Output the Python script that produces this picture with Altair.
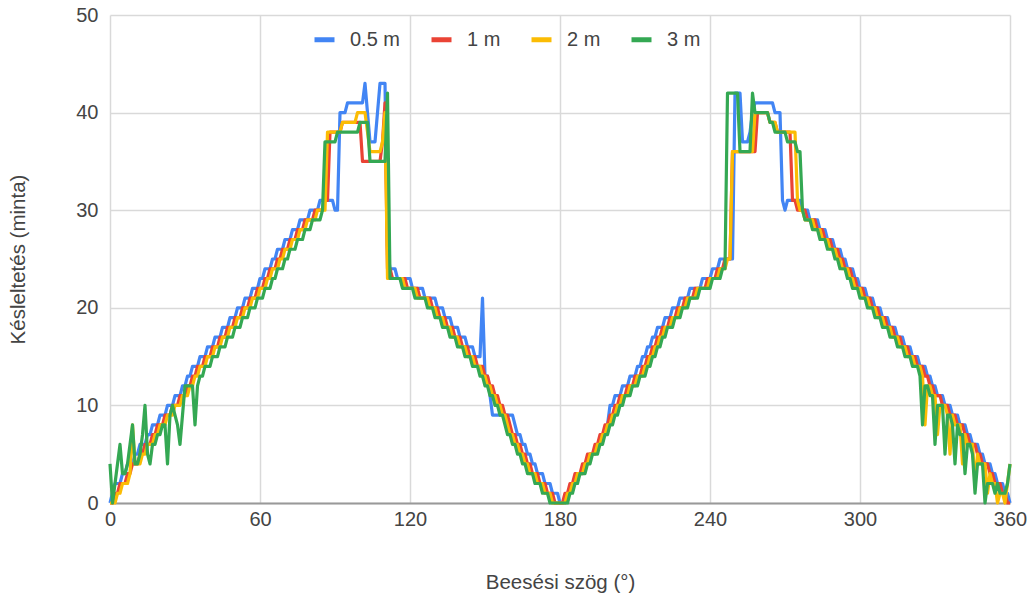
import altair as alt
import pandas as pd

# Incidence angle grid (degrees), one sample per degree
angles = list(range(0, 361))

series_names = ["0.5 m", "1 m", "2 m", "3 m"]
series_colors = ["#4285F4", "#EA4335", "#FBBC04", "#34A853"]

x_ticks = [0, 60, 120, 180, 240, 300, 360]
y_ticks = [0, 10, 20, 30, 40, 50]

blue = [
    0, 1, 2, 2, 2, 3, 3, 4, 4, 4,
    5, 5, 6, 6, 6, 7, 7, 8, 8, 8,
    9, 9, 9, 10, 10, 10, 11, 11, 11, 12,
    12, 13, 13, 14, 14, 14, 15, 15, 15, 16,
    16, 16, 17, 17, 17, 18, 18, 18, 19, 19,
    19, 20, 20, 20, 21, 21, 21, 22, 22, 22,
    23, 23, 24, 24, 24, 25, 25, 26, 26, 26,
    27, 27, 27, 28, 28, 28, 29, 29, 29, 29,
    30, 30, 30, 30, 31, 31, 31, 31, 31, 31,
    30, 30, 40, 40, 40, 41, 41, 41, 41, 41,
    41, 41, 43, 40, 37, 37, 37, 40, 43, 43,
    43, 26, 24, 24, 24, 23, 23, 23, 23, 23,
    23, 22, 22, 22, 22, 22, 21, 21, 21, 21,
    21, 20, 20, 20, 19, 19, 19, 18, 18, 18,
    17, 17, 17, 16, 16, 16, 15, 15, 15, 21,
    13, 13, 11, 9, 9, 9, 9, 9, 9, 9,
    9, 9, 8, 7, 7, 6, 6, 5, 5, 4,
    4, 3, 3, 3, 2, 2, 2, 1, 1, 1,
    0, 0, 0, 1, 1, 2, 2, 3, 3, 3,
    4, 4, 5, 5, 5, 6, 6, 7, 7, 8,
    10, 10, 11, 11, 11, 12, 12, 12, 13, 13,
    13, 14, 14, 15, 15, 16, 16, 17, 17, 18,
    18, 18, 19, 19, 19, 20, 20, 20, 21, 21,
    21, 21, 22, 22, 22, 22, 22, 23, 23, 23,
    23, 24, 24, 24, 25, 25, 25, 25, 25, 25,
    42, 42, 42, 37, 37, 37, 38, 40, 41, 41,
    41, 41, 41, 41, 41, 41, 40, 40, 40, 31,
    30, 31, 31, 31, 31, 31, 31, 30, 30, 30,
    29, 29, 29, 29, 28, 28, 28, 27, 27, 27,
    26, 26, 26, 25, 25, 24, 24, 24, 23, 23,
    22, 22, 22, 21, 21, 21, 20, 20, 20, 19,
    19, 19, 18, 18, 18, 17, 17, 17, 16, 16,
    16, 15, 15, 15, 14, 14, 14, 13, 13, 12,
    12, 11, 11, 11, 10, 10, 10, 9, 9, 9,
    8, 8, 8, 7, 7, 6, 6, 6, 5, 5,
    4, 4, 4, 3, 3, 2, 2, 2, 1, 1,
    0,
]

red = [
    0, 0, 1, 1, 2, 2, 2, 3, 3, 4,
    4, 4, 5, 5, 6, 6, 6, 7, 7, 8,
    8, 8, 9, 9, 9, 10, 10, 10, 11, 11,
    11, 12, 12, 13, 13, 14, 14, 14, 15, 15,
    15, 16, 16, 16, 17, 17, 17, 18, 18, 18,
    19, 19, 19, 20, 20, 20, 21, 21, 21, 22,
    22, 22, 23, 23, 24, 24, 24, 25, 25, 26,
    26, 26, 27, 27, 27, 28, 28, 28, 29, 29,
    29, 29, 30, 30, 30, 30, 31, 31, 38, 38,
    38, 38, 38, 39, 39, 39, 39, 39, 39, 39,
    39, 35, 35, 35, 35, 35, 35, 35, 35, 37,
    41, 24, 24, 23, 23, 23, 23, 23, 23, 22,
    22, 22, 22, 22, 21, 21, 21, 21, 21, 20,
    20, 20, 19, 19, 19, 18, 18, 18, 17, 17,
    17, 16, 16, 16, 15, 15, 15, 14, 14, 14,
    13, 13, 12, 12, 11, 11, 10, 10, 9, 9,
    8, 7, 7, 6, 6, 5, 5, 4, 4, 3,
    3, 3, 2, 2, 2, 1, 1, 1, 0, 0,
    0, 0, 1, 1, 2, 2, 3, 3, 3, 4,
    4, 5, 5, 5, 6, 6, 7, 7, 8, 8,
    9, 9, 10, 10, 11, 11, 11, 12, 12, 12,
    13, 13, 13, 14, 14, 15, 15, 16, 16, 17,
    17, 18, 18, 18, 19, 19, 19, 20, 20, 20,
    21, 21, 21, 21, 22, 22, 22, 22, 22, 23,
    23, 23, 23, 24, 24, 24, 25, 25, 25, 36,
    36, 36, 36, 36, 36, 36, 36, 36, 36, 40,
    40, 40, 40, 40, 39, 39, 39, 38, 38, 38,
    38, 38, 38, 31, 31, 30, 30, 30, 30, 29,
    29, 29, 29, 28, 28, 28, 27, 27, 27, 26,
    26, 26, 25, 25, 24, 24, 24, 23, 23, 22,
    22, 22, 21, 21, 21, 20, 20, 20, 19, 19,
    19, 18, 18, 18, 17, 17, 17, 16, 16, 16,
    15, 15, 15, 14, 14, 14, 13, 13, 12, 12,
    11, 11, 11, 10, 10, 10, 9, 9, 9, 8,
    8, 8, 7, 7, 6, 6, 6, 5, 5, 4,
    4, 4, 3, 3, 2, 2, 2, 1, 1, 0,
    0,
]

yellow = [
    0, 0, 0, 1, 1, 2, 2, 2, 3, 8,
    4, 4, 4, 5, 5, 6, 6, 6, 7, 7,
    8, 8, 8, 9, 9, 9, 10, 10, 10, 11,
    11, 11, 12, 12, 13, 13, 14, 14, 14, 15,
    15, 15, 16, 16, 16, 17, 17, 17, 18, 18,
    18, 19, 19, 19, 20, 20, 20, 21, 21, 21,
    22, 22, 22, 23, 23, 24, 24, 24, 25, 25,
    26, 26, 26, 27, 27, 27, 28, 28, 28, 29,
    29, 29, 29, 30, 30, 30, 30, 38, 38, 38,
    38, 38, 38, 39, 39, 39, 39, 39, 39, 40,
    40, 40, 40, 38, 36, 36, 36, 36, 36, 37,
    40, 23, 23, 23, 23, 23, 23, 23, 22, 22,
    22, 22, 22, 21, 21, 21, 21, 21, 20, 20,
    20, 19, 19, 19, 18, 18, 18, 17, 17, 17,
    16, 16, 16, 15, 15, 15, 14, 14, 14, 13,
    13, 12, 12, 11, 11, 10, 10, 9, 9, 8,
    7, 7, 6, 6, 5, 5, 4, 4, 3, 3,
    3, 2, 2, 2, 1, 1, 1, 0, 0, 0,
    0, 0, 0, 1, 1, 2, 2, 3, 3, 3,
    4, 4, 5, 5, 5, 6, 6, 7, 7, 8,
    8, 9, 9, 10, 10, 11, 11, 11, 12, 12,
    12, 13, 13, 13, 14, 14, 15, 15, 16, 16,
    17, 17, 18, 18, 18, 19, 19, 19, 20, 20,
    20, 21, 21, 21, 21, 22, 22, 22, 22, 22,
    23, 23, 23, 23, 24, 24, 24, 25, 25, 36,
    36, 36, 36, 36, 36, 36, 36, 36, 40, 40,
    40, 40, 40, 40, 39, 39, 39, 38, 38, 38,
    38, 38, 38, 38, 38, 31, 30, 30, 29, 29,
    29, 29, 28, 28, 28, 27, 27, 27, 26, 26,
    26, 25, 25, 24, 24, 24, 23, 23, 22, 22,
    22, 21, 21, 21, 20, 20, 20, 19, 19, 19,
    18, 18, 18, 17, 17, 17, 16, 16, 16, 15,
    15, 15, 14, 14, 14, 13, 8, 12, 12, 11,
    11, 7, 10, 10, 10, 9, 5, 9, 8, 8,
    8, 4, 7, 6, 6, 6, 2, 5, 4, 4,
    4, 1, 3, 2, 2, 0, 1, 1, 0, 2,
    4,
]

green = [
    4, 0, 2, 4, 6, 3, 3, 4, 6, 8,
    4, 4, 5, 7, 10, 5, 4, 6, 6, 7,
    7, 8, 8, 4, 9, 10, 9, 8, 6, 9,
    12, 12, 12, 12, 8, 12, 13, 13, 14, 14,
    14, 15, 15, 15, 16, 16, 16, 17, 17, 17,
    18, 18, 18, 19, 19, 19, 20, 20, 20, 21,
    21, 21, 22, 22, 22, 23, 23, 24, 24, 24,
    25, 25, 26, 26, 26, 27, 27, 27, 28, 28,
    28, 29, 29, 29, 29, 30, 37, 37, 37, 37,
    37, 38, 38, 38, 38, 38, 38, 38, 38, 38,
    39, 39, 39, 39, 35, 35, 35, 35, 35, 35,
    35, 42, 23, 23, 23, 23, 23, 22, 22, 22,
    22, 22, 21, 21, 21, 21, 21, 20, 20, 20,
    19, 19, 19, 18, 18, 18, 17, 17, 17, 16,
    16, 16, 15, 15, 15, 14, 14, 14, 13, 13,
    12, 12, 11, 11, 10, 10, 9, 9, 8, 7,
    7, 6, 6, 5, 5, 4, 4, 3, 3, 3,
    2, 2, 2, 1, 1, 1, 0, 0, 0, 0,
    0, 0, 0, 0, 1, 1, 2, 2, 3, 3,
    3, 4, 4, 5, 5, 5, 6, 6, 7, 7,
    8, 8, 9, 9, 10, 10, 11, 11, 11, 12,
    12, 12, 13, 13, 13, 14, 14, 15, 15, 16,
    16, 17, 17, 18, 18, 18, 19, 19, 19, 20,
    20, 20, 21, 21, 21, 21, 22, 22, 22, 22,
    22, 23, 23, 23, 23, 24, 24, 42, 42, 42,
    42, 42, 36, 36, 36, 36, 36, 42, 40, 40,
    40, 40, 40, 40, 39, 39, 38, 38, 38, 38,
    38, 37, 37, 37, 37, 36, 36, 30, 29, 29,
    29, 28, 28, 28, 27, 27, 27, 26, 26, 26,
    25, 25, 24, 24, 24, 23, 23, 22, 22, 22,
    21, 21, 21, 20, 20, 20, 19, 19, 19, 18,
    18, 18, 17, 17, 17, 16, 16, 16, 15, 15,
    15, 14, 14, 14, 13, 8, 12, 12, 11, 11,
    6, 10, 10, 10, 5, 9, 9, 8, 4, 8,
    7, 7, 3, 6, 6, 5, 1, 4, 4, 4,
    0, 2, 2, 2, 1, 2, 1, 1, 1, 2,
    4,
]

all_values = [blue, red, yellow, green]

rows = []
for name, vals in zip(series_names, all_values):
    for a, v in zip(angles, vals):
        rows.append({"angle": a, "delay": v, "series": name})
df = pd.DataFrame(rows)

FONT = "Liberation Sans"

chart = (
    alt.Chart(df)
    .mark_line(strokeWidth=3.2, interpolate="linear", strokeJoin="round")
    .encode(
        x=alt.X(
            "angle:Q",
            scale=alt.Scale(domain=[0, 360], nice=False, zero=False),
            axis=alt.Axis(
                values=x_ticks,
                title="Beesési szög (°)",
                ticks=False,
                tickSize=0,
                labelFlush=False,
                labelPadding=6,
                labelFontSize=20,
                labelColor="#444444",
                labelFont=FONT,
                titleFont=FONT,
                titleFontSize=20.5,
                titleFontWeight="normal",
                titleColor="#444444",
                titleY=79,
                titleBaseline="middle",
                domainColor="#999999",
                domainWidth=2,
                grid=True,
                gridColor="#d9d9d9",
                gridWidth=1.5,
            ),
        ),
        y=alt.Y(
            "delay:Q",
            scale=alt.Scale(domain=[0, 50], nice=False),
            axis=alt.Axis(
                values=y_ticks,
                title="Késleltetés (minta)",
                ticks=False,
                tickSize=0,
                domain=False,
                labelFlush=False,
                labelPadding=12,
                labelFontSize=20,
                labelColor="#444444",
                labelFont=FONT,
                titleFont=FONT,
                titleFontSize=20.5,
                titleFontWeight="normal",
                titleColor="#444444",
                titleX=-92,
                titleBaseline="middle",
                grid=True,
                gridColor="#d9d9d9",
                gridWidth=1.5,
            ),
        ),
        color=alt.Color(
            "series:N",
            scale=alt.Scale(domain=series_names, range=series_colors),
            legend=alt.Legend(
                title=None,
                orient="none",
                legendX=202,
                legendY=12,
                direction="horizontal",
                symbolType="stroke",
                symbolSize=400,
                symbolStrokeWidth=5,
                labelFontSize=20,
                labelFont=FONT,
                labelColor="#444444",
                labelOffset=13,
                columnPadding=20,
                padding=0,
            ),
        ),
    )
    .properties(
        width=900,
        height=488,
        autosize=alt.AutoSizeParams(type="none"),
        padding={"left": 110, "top": 15, "right": 24, "bottom": 98},
        background="white",
    )
    .configure_view(stroke=None)
)

chart.save("out.html", embed_options={"renderer": "svg", "actions": False})
